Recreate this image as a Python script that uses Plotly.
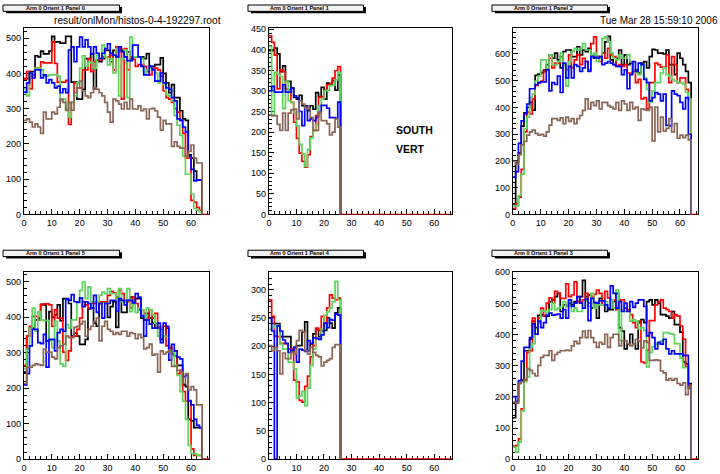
import plotly.graph_objects as go

# ---------------- data (bin contents, unit-width bins starting at 0) ----------------
p0_black = [385,385,405,405,450,447,463,455,455,463,505,489,489,486,486,505,505,375,375,327,327,355,442,442,456,356,438,433,442,465,465,433,465,447,465,465,447,461,442,447,447,447,447,442,456,420,420,425,425,444,400,373,345,368,331,331,294,271,267,169,160,123,98,98]
p0_red = [384,405,356,395,415,415,433,430,430,430,489,428,375,375,375,380,255,318,373,359,359,410,410,442,405,433,438,438,447,447,447,452,410,475,470,327,470,410,447,440,420,425,425,420,405,396,415,415,410,392,350,331,327,318,300,290,267,230,160,160,40,35,20,12]
p0_green = [356,336,401,401,415,415,410,392,392,396,396,396,392,322,327,300,276,318,336,373,415,450,420,432,430,415,452,442,480,447,424,442,401,470,336,442,466,331,503,447,447,447,442,401,410,415,410,401,373,382,368,340,336,322,280,253,225,165,114,114,58,17,12,7]
p0_blue = [347,373,401,387,410,410,387,396,373,382,373,359,364,345,356,345,466,475,433,475,503,475,495,475,455,475,457,442,457,470,484,457,452,447,475,461,447,436,436,480,480,447,420,396,396,420,410,378,378,401,373,359,355,331,322,271,267,248,234,165,128,95,98,98]
p0_brown = [267,271,262,248,257,248,230,290,271,271,290,285,304,327,318,295,318,296,345,359,378,350,336,331,345,359,355,345,336,318,290,262,327,322,313,299,318,299,327,299,299,308,294,299,271,299,301,294,276,239,267,257,257,193,206,193,188,188,165,179,197,160,146,146]

p1_black = [398,398,404,390,347,361,323,323,307,284,280,289,264,264,252,264,256,296,286,309,280,319,315,325,302,339]
p1_red = [434,418,387,305,351,347,305,303,272,224,185,149,129,115,145,189,204,240,284,286,302,315,318,331,349,359]
p1_green = [408,240,345,341,335,257,323,276,272,248,215,170,147,117,158,186,204,218,264,280,300,302,313,314,327,345]
p1_blue = [300,311,297,297,297,315,297,297,307,288,284,250,216,262,228,232,228,236,248,265,265,258,235,235,234,273]
p1_brown = [242,240,240,219,204,246,204,246,254,256,232,276,268,260,257,236,204,204,248,228,228,220,193,200,232,212]

p2_black = [35,195,230,330,380,400,420,390,520,525,530,540,560,597,584,603,578,548,609,615,615,590,590,627,597,615,609,621,597,584,590,590,603,645,666,578,560,584,615,560,597,560,566,535,541,529,566,572,548,590,617,615,603,603,600,615,560,560,523,603,584,560,535,493]
p2_red = [22,40,65,169,309,383,376,432,483,493,499,535,548,584,548,566,566,590,560,541,597,548,578,597,560,584,572,541,639,664,590,572,603,584,621,597,590,554,560,554,560,529,529,535,493,505,432,437,395,493,493,566,560,551,551,597,493,590,560,493,511,511,468,432]
p2_green = [32,32,71,150,321,364,437,450,499,517,578,578,548,597,560,560,572,603,560,480,572,609,621,615,621,639,615,615,597,603,572,584,658,664,645,603,584,578,597,584,584,597,572,541,529,523,560,511,468,419,462,493,493,529,548,523,517,505,499,493,493,487,456,432]
p2_blue = [140,160,266,350,376,413,470,470,486,493,496,496,541,462,493,486,517,456,566,511,554,511,560,554,535,548,572,535,590,587,584,590,560,566,572,566,560,554,554,523,541,470,523,572,535,566,560,505,493,425,437,456,450,425,450,333,331,462,450,444,419,395,437,300]
p2_brown = [199,187,224,260,273,297,309,315,303,297,300,293,309,334,358,358,352,361,340,364,348,358,340,358,370,389,432,395,419,407,425,395,419,419,407,401,395,419,389,425,413,389,419,395,401,352,395,392,389,401,275,401,309,364,312,322,358,309,340,285,297,287,297,279]

p5_black = [245,346,369,369,392,397,436,434,333,415,399,406,434,390,452,450,438,346,355,346,323,323,337,423,426,383,374,438,443,443,399,429,443,371,447,413,413,447,456,438,452,452,397,392,410,397,383,369,371,337,346,369,314,296,291,264,264,209,204,112,108,89,89,89]
p5_red = [264,346,374,402,402,392,434,437,437,434,374,420,397,397,301,278,305,344,346,365,397,443,434,425,438,438,443,443,443,443,461,472,468,456,475,466,447,443,426,456,438,420,420,410,397,420,397,410,371,365,374,319,314,301,291,241,250,190,163,163,29,11,11,11]
p5_green = [255,310,369,425,360,415,392,390,390,333,314,388,333,268,261,379,369,392,392,443,475,498,452,485,443,443,443,461,470,466,480,466,466,452,480,443,443,480,415,438,413,425,420,397,425,420,406,383,346,369,346,346,305,301,264,236,190,163,112,39,16,16,11,11]
p5_blue = [209,241,319,365,365,328,325,351,259,337,337,305,356,365,360,452,447,463,443,441,454,429,443,438,425,461,413,438,397,438,438,447,447,417,452,447,434,447,447,440,466,456,404,346,392,380,369,369,383,328,383,374,279,323,305,287,282,232,236,165,153,112,95,89]
p5_brown = [213,259,259,264,268,266,264,310,301,301,287,282,314,319,324,346,342,342,371,374,380,388,346,365,374,388,397,333,374,388,365,360,351,356,351,360,360,346,356,353,339,351,342,310,314,324,293,296,245,305,296,301,307,261,261,250,247,213,241,195,204,195,153,153]

p4_black = [250,240,240,240,217,217,217,217,189,198,201,201,225,243,192,204,222,230,217,227,228,250,241,232,259,268]
p4_red = [282,253,218,217,205,205,204,195,195,140,137,104,101,129,147,181,201,232,228,253,241,268,291,285,282,285]
p4_green = [230,233,237,237,204,195,195,172,172,160,108,112,120,95,126,166,195,215,215,230,255,261,268,279,315,282]
p4_blue = [250,227,0,236,227,211,205,189,193,198,172,195,193,191,210,205,215,214,212,220,241,233,247,246,257,255]
p4_brown = [201,192,198,192,151,188,178,178,189,186,210,228,226,192,186,198,189,184,181,165,172,175,178,198,203,203]

p3_black = [133,180,243,254,348,348,385,443,422,462,464,459,459,506,511,522,532,474,495,490,501,495,506,506,522,574,522,527,485,501,453,516,495,474,480,480,506,532,422,411,354,369,401,369,354,438,448,438,506,511,495,511,501,464,464,459,453,474,432,432,408,312,306,243]
p3_red = [42,44,65,162,256,343,348,453,401,453,485,459,501,518,501,539,532,516,516,563,522,527,569,506,506,511,532,501,522,529,543,532,495,539,518,511,511,480,511,511,485,480,464,438,422,443,312,309,350,445,445,495,506,511,485,480,474,453,464,459,427,385,296,238]
p3_green = [39,23,55,154,249,264,359,371,417,438,476,476,466,480,501,480,485,490,506,490,511,474,485,474,474,485,508,490,532,485,501,495,495,506,485,511,485,543,382,480,474,474,443,448,443,417,422,413,296,343,361,369,371,380,406,406,403,401,371,371,325,294,294,233]
p3_blue = [201,186,252,315,359,359,390,434,401,443,422,438,462,469,462,464,466,453,480,453,511,490,501,522,501,485,514,445,516,503,501,508,508,495,485,556,532,485,506,474,501,474,506,487,501,511,511,490,396,406,390,354,375,369,385,354,338,348,338,338,338,333,333,228]
p3_brown = [183,180,243,249,254,291,285,275,267,301,327,333,333,348,317,336,343,348,348,350,348,364,378,371,390,411,390,413,390,375,359,375,369,401,359,390,401,401,364,380,380,371,364,369,385,380,357,380,375,317,317,319,317,283,277,254,259,254,259,243,238,245,207,233]

panel_titles = ["Arm 0 Orient 1 Panel 0", "Arm 0 Orient 1 Panel 1", "Arm 0 Orient 1 Panel 2",
                "Arm 0 Orient 1 Panel 5", "Arm 0 Orient 1 Panel 4", "Arm 0 Orient 1 Panel 3"]
file_label = "result/onlMon/histos-0-4-192297.root"
date_label = "Tue Mar 28 15:59:10 2006"
side_labels = ["SOUTH", "VERT"]

# ---------------- layout geometry (pixels) ----------------
W, H = 720, 474
XMAX = 66.5
COL = {"black": "#000000", "red": "#ff0000", "green": "#5cd35c", "blue": "#0000ff", "brown": "#8a6554"}

panels = [
    dict(series=dict(black=p0_black, red=p0_red, green=p0_green, blue=p0_blue, brown=p0_brown),
         frame=(21, 207, 23, 214), ymax=530, dtick=100, minor=20, box=(0, 117, 0, 6.5)),
    dict(series=dict(black=p1_black, red=p1_red, green=p1_green, blue=p1_blue, brown=p1_brown),
         frame=(267, 451, 23, 214), ymax=454, dtick=50, minor=10, box=(246, 362, 0, 6.5)),
    dict(series=dict(black=p2_black, red=p2_red, green=p2_green, blue=p2_blue, brown=p2_brown),
         frame=(512, 698, 23, 214), ymax=699, dtick=100, minor=20, box=(491, 607, 0, 6.5)),
    dict(series=dict(black=p5_black, red=p5_red, green=p5_green, blue=p5_blue, brown=p5_brown),
         frame=(21, 207, 273, 464), ymax=526, dtick=100, minor=20, box=(0, 117, 250.5, 257)),
    dict(series=dict(black=p4_black, red=p4_red, green=p4_green, blue=p4_blue, brown=p4_brown),
         frame=(267, 451, 273, 464), ymax=331, dtick=50, minor=10, box=(246, 362, 250.5, 257)),
    dict(series=dict(black=p3_black, red=p3_red, green=p3_green, blue=p3_blue, brown=p3_brown),
         frame=(512, 698, 273, 464), ymax=600, dtick=100, minor=20, box=(491, 607, 250.5, 257)),
]

def px(x):
    return x / W

def py(y):
    return 1 - y / H

fig = go.Figure()
shapes = []
annotations = []
FONT = "Liberation Sans, Arial, sans-serif"

for i, p in enumerate(panels):
    n = i + 1
    xa = "x" if n == 1 else f"x{n}"
    ya = "y" if n == 1 else f"y{n}"
    x0, x1, y0, y1 = p["frame"]
    for name in ["black", "red", "green", "blue", "brown"]:
        vals = p["series"][name]
        nb = len(vals)
        xs = list(range(nb + 1))
        ys = list(vals) + [0]
        if name == "red":
            xs = xs + [XMAX]
            ys = ys + [0]
        fig.add_trace(go.Scatter(x=xs, y=ys, mode="lines", line=dict(color=COL[name], width=1.7, shape="hv"),
                                 xaxis=xa, yaxis=ya, showlegend=False, hoverinfo="skip"))
    axcommon = dict(showline=True, mirror=True, linecolor="black", linewidth=1.3, showgrid=False,
                    zeroline=False, ticks="inside", tickcolor="black",
                    tickfont=dict(family=FONT, size=9, color="black"), layer="below traces")
    fig.layout[f"xaxis{'' if n == 1 else n}"] = dict(
        domain=[px(x0), px(x1)], range=[0, XMAX], anchor=ya, dtick=10, tick0=0, ticklen=5,
        minor=dict(dtick=2, ticklen=3, ticks="inside", tickcolor="black", showgrid=False), **axcommon)
    fig.layout[f"yaxis{'' if n == 1 else n}"] = dict(
        domain=[py(y1), py(y0)], range=[0, p["ymax"]], anchor=xa, dtick=p["dtick"], tick0=0, ticklen=5,
        minor=dict(dtick=p["minor"], ticklen=3, ticks="inside", tickcolor="black", showgrid=False), **axcommon)
    # title box with shadow
    bx0, bx1, by0, by1 = p["box"]
    shapes.append(dict(type="rect", xref="paper", yref="paper", x0=px(bx0 + 3), x1=px(bx1 + 2.5),
                       y0=py(by1 + 2), y1=py(by0 + 2), fillcolor="black", line=dict(width=0)))
    shapes.append(dict(type="rect", xref="paper", yref="paper", x0=px(bx0), x1=px(bx1),
                       y0=py(by1), y1=py(by0), fillcolor="#f2f2f2", line=dict(color="black", width=1)))
    annotations.append(dict(text=f"<b>{panel_titles[i]}</b>", xref="paper", yref="paper",
                            x=px((bx0 + bx1) / 2 - 6), y=py((by0 + by1) / 2), xanchor="center", yanchor="middle",
                            showarrow=False, font=dict(family=FONT, size=5.5, color="black")))

annotations.append(dict(text=file_label, xref="paper", yref="paper", x=px(135.5), y=py(16),
                        xanchor="center", yanchor="middle", showarrow=False,
                        font=dict(family=FONT, size=10.2, color="black")))
annotations.append(dict(text=date_label, xref="paper", yref="paper", x=px(720), y=py(16),
                        xanchor="right", yanchor="middle", showarrow=False,
                        font=dict(family=FONT, size=10, color="black")))
for k, lab in enumerate(side_labels):
    annotations.append(dict(text=f"<b>{lab}</b>", xref="paper", yref="paper", x=px(393), y=py(128 + 19 * k),
                            xanchor="left", yanchor="middle", showarrow=False,
                            font=dict(family=FONT, size=10.5, color="black")))

fig.update_layout(width=W, height=H, margin=dict(l=0, r=0, t=0, b=0), paper_bgcolor="white",
                  plot_bgcolor="white", shapes=shapes, annotations=annotations, showlegend=False)
fig.write_html("out.html", config={"displayModeBar": False},
               post_script="document.body.style.margin='0px';document.body.style.padding='0px';")
